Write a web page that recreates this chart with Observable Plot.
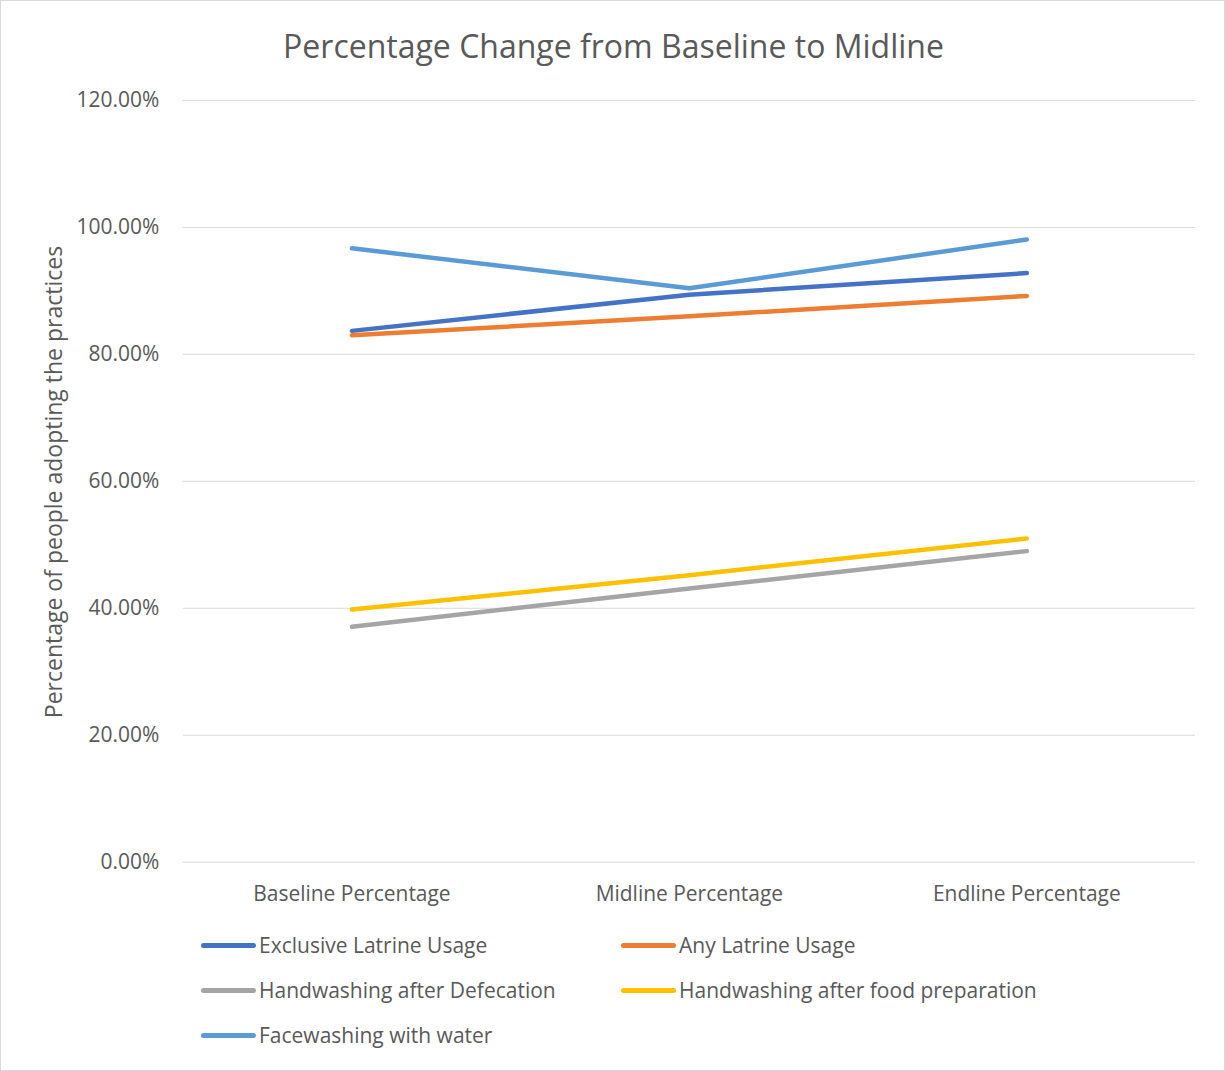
<!DOCTYPE html>
<html><head><meta charset="utf-8">
<script src="https://cdn.jsdelivr.net/npm/d3@7"></script>
<script src="https://cdn.jsdelivr.net/npm/@observablehq/plot@0.6"></script>
<style>
body{margin:0;background:#fff;font-family:"Open Sans",sans-serif;color:#595959}
#wrap{position:relative;width:1225px;height:1071px;box-sizing:border-box;border:1px solid #d9d9d9;overflow:hidden}
#title{position:absolute;left:0;width:1225px;top:23px;text-align:center;font-size:32px;line-height:44px}
#ylab{position:absolute;left:52px;top:481px;transform:translate(-50%,-50%) rotate(-90deg);white-space:nowrap;font-size:23px}
#chart{position:absolute;left:0;top:60px}
#legend{position:absolute;left:0;top:930px;width:1225px}
.item{position:absolute;display:flex;align-items:center;font-size:21px;white-space:nowrap}
.sw{width:55px;height:5px;border-radius:3px;margin-right:3px}
</style></head>
<body><div id="wrap">
<div id="title">Percentage Change from Baseline to Midline</div>
<div id="ylab">Percentage of people adopting the practices</div>
<div id="chart"></div>
<div id="legend"></div>
</div>
<script>
const categories = ["Baseline Percentage","Midline Percentage","Endline Percentage"];
const seriesNames = ["Exclusive Latrine Usage","Any Latrine Usage","Handwashing after Defecation","Handwashing after food preparation","Facewashing with water"];
const seriesColors = ["#4472C4","#ED7D31","#A5A5A5","#FFC000","#5B9BD5"];
const exclusiveLatrine = [0.837,0.894,0.928];
const anyLatrine = [0.830,0.860,0.892];
const handwashDefecation = [0.371,0.431,0.490];
const handwashFood = [0.398,0.452,0.510];
const facewashing = [0.967,0.904,0.981];
const yTicks = [0,0.2,0.4,0.6,0.8,1.0,1.2];

const seriesValues = [exclusiveLatrine, anyLatrine, handwashDefecation, handwashFood, facewashing];
const rows = [];
seriesNames.forEach((s,i)=>categories.forEach((c,j)=>rows.push({series:s,cat:c,value:seriesValues[i][j]})));
const plot = Plot.plot({
  width:1225, height:862,
  marginLeft:182, marginRight:29, marginTop:39, marginBottom:60,
  style:{fontFamily:"'Open Sans',sans-serif",fontSize:"21px",color:"#595959",background:"transparent"},
  x:{type:"point",domain:categories,padding:0.5,label:null},
  y:{domain:[0,1.2],label:null},
  color:{domain:seriesNames,range:seriesColors},
  marks:[
    Plot.gridY(yTicks,{stroke:"#d9d9d9",strokeOpacity:1,strokeWidth:1}),
    Plot.axisY(yTicks,{tickSize:0,tickPadding:24,tickFormat:d3.format(".2%"),label:null,fill:"#595959",fontSize:21}),
    Plot.axisX({tickSize:0,tickPadding:24,label:null,fill:"#595959",fontSize:21}),
    Plot.line(rows,{x:"cat",y:"value",z:"series",stroke:"series",strokeWidth:4.5,strokeLinecap:"round",strokeLinejoin:"round"})
  ]
});
document.getElementById("chart").appendChild(plot);

const legendPos = [[200,0],[620,0],[200,45],[620,45],[200,90]];
const leg = document.getElementById("legend");
seriesNames.forEach((s,i)=>{
  const d=document.createElement("div");d.className="item";
  d.style.left=legendPos[i][0]+"px";d.style.top=(legendPos[i][1])+"px";
  d.innerHTML=`<div class="sw" style="background:${seriesColors[i]}"></div><span>${s}</span>`;
  leg.appendChild(d);
});
</script>
</body></html>
